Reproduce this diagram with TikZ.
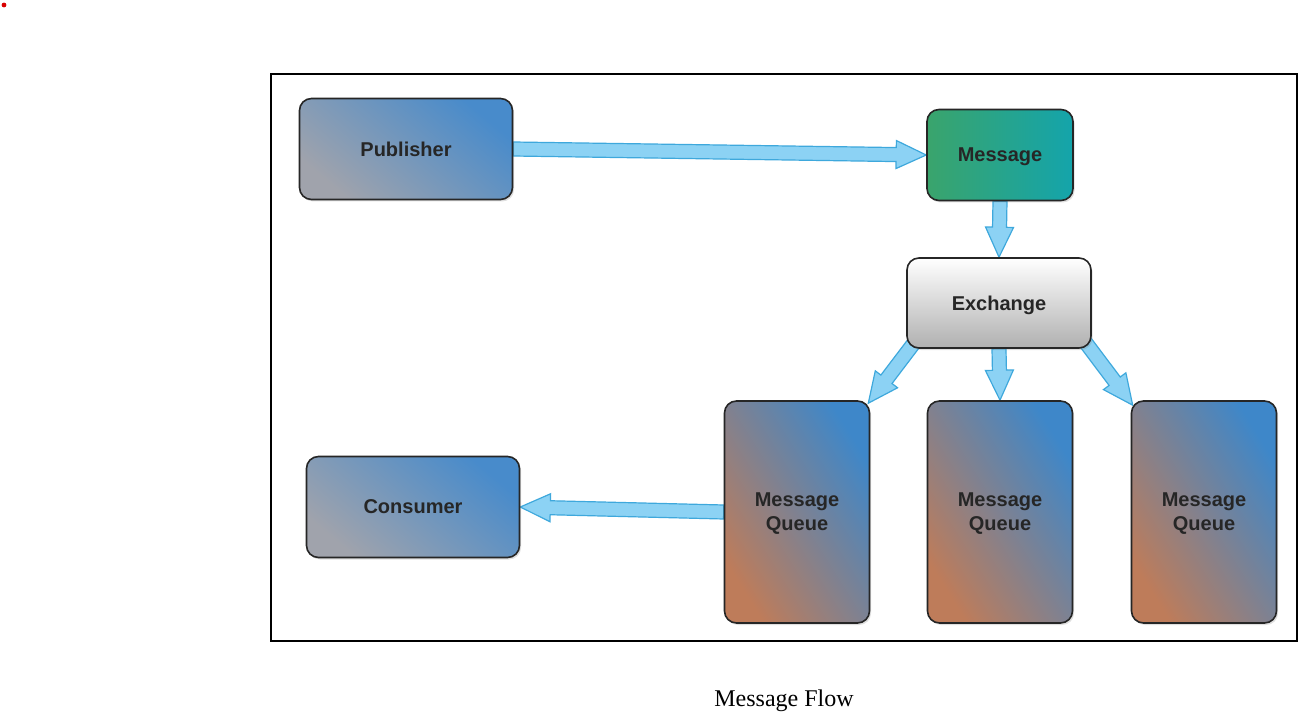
\documentclass[tikz,border=0pt]{standalone}
\usepackage{fontspec}
\setmainfont{Liberation Serif}
\newfontfamily\boxfont{Liberation Sans}
\usepackage{tikz}
\usetikzlibrary{calc,backgrounds,shadows,positioning}
\definecolor{pubgray}{RGB}{160,163,172}
\definecolor{pubblue}{RGB}{72,139,203}
\definecolor{msggreen}{RGB}{58,164,108}
\definecolor{msgteal}{RGB}{20,164,171}
\definecolor{qorange}{RGB}{190,124,90}
\definecolor{qmauve}{RGB}{134,130,162}
\definecolor{qblue}{RGB}{62,135,201}
\definecolor{exgray}{RGB}{176,176,176}
\definecolor{arrowfill}{RGB}{140,210,244}
\definecolor{arrowedge}{RGB}{62,168,220}

\begin{document}
\begin{tikzpicture}
          [x=0.5pt,y=-0.5pt,
            box/.style={draw=black!85,line width=0.8pt,rounded corners=6pt,
              font=\boxfont\bfseries\fontsize{10}{12}\selectfont,text=black!85,align=center,
              text depth=0pt,
              drop shadow={shadow xshift=0.8pt,shadow yshift=-1pt,opacity=0.25}},
            endbox/.style={box,minimum width=106.5pt,minimum height=50.5pt,
              bottom color=pubgray,top color=pubblue,shading angle=-40},
            queuebox/.style={box,minimum width=72.5pt,minimum height=111pt,
              bottom color=qorange,middle color=qmauve,top color=qblue,shading angle=-58},
            fat/.style={draw=arrowedge,fill=arrowfill,line width=0.6pt,line join=miter,
              to path={($(\tikztostart)!3.5pt!90:(\tikztotarget)$)
                -- ($($(\tikztotarget)!15pt!(\tikztostart)$)!3.5pt!90:(\tikztotarget)$)
                -- ($($(\tikztotarget)!15pt!(\tikztostart)$)!7pt!90:(\tikztotarget)$)
                -- (\tikztotarget)
                -- ($($(\tikztotarget)!15pt!(\tikztostart)$)!7pt!-90:(\tikztotarget)$)
                -- ($($(\tikztotarget)!15pt!(\tikztostart)$)!3.5pt!-90:(\tikztotarget)$)
                -- ($(\tikztostart)!3.5pt!-90:(\tikztotarget)$) -- cycle}},
            caption/.style={font=\fontsize{12}{14}\selectfont,text depth=0pt},
          ]
          \useasboundingbox (0,0) rectangle (1314,717);
          \fill[red!85!black] (4,5) circle (1.2pt);

          % frame
          \draw[line width=0.6pt] (271,74) rectangle (1297,641);

          \node[endbox] (pub) at (406,149) {Publisher};
          \node[box,minimum width=73pt,minimum height=45.5pt,
            left color=msggreen,right color=msgteal] (msg) at (1000,155) {Message};
          \node[box,minimum width=92pt,minimum height=45pt,
            top color=white,middle color=black!8,bottom color=exgray] (exch) at (999,303) {Exchange};
          \node[queuebox] (q1) at (797,512) {Message\\Queue};
          \node[queuebox] (q2) at (1000,512) {Message\\Queue};
          \node[queuebox] (q3) at (1204,512) {Message\\Queue};
          \node[endbox] (cons) at (413,507) {Consumer};

          \node[caption] (cap) at (784,698) {Message Flow};

          % arrows
          \begin{scope}[on background layer]
            \draw[fat] (pub.east) to (msg.west);
            \draw[fat] (msg.south) to (exch.north);
            \draw[fat] ($(exch.south west)+(11,-10)$) to ($(q1.north east)+(-2,3)$);
            \draw[fat] (exch.south) to (q2.north);
            \draw[fat] ($(exch.south east)+(-9,-10)$) to ($(q3.north west)+(2,5)$);
            \draw[fat] (q1.west) to (cons.east);
          \end{scope}
        \end{tikzpicture}
\end{document}
